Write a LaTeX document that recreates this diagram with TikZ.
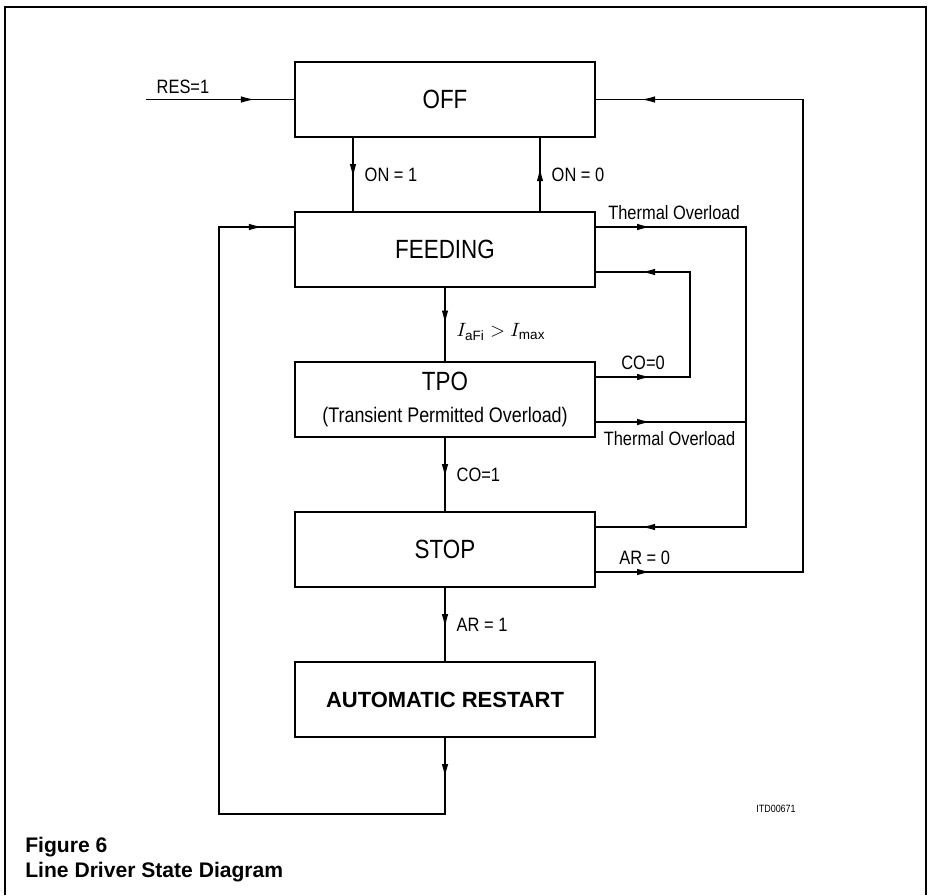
\documentclass[tikz,border=0pt]{standalone}
\usepackage{fontspec}
\setmainfont{Liberation Sans}
\newfontfamily\dinfont[FakeStretch=0.85]{Liberation Sans}
\usetikzlibrary{arrows.meta, decorations.markings}

\tikzstyle{state} = [rectangle, minimum width=6cm, minimum height=1.5cm, text centered, draw=black, line width=1.2pt, font=\dinfont\fontsize{15}{17}\selectfont]
\tikzstyle{restart} = [state, font=\bfseries\fontsize{12.5}{15}\selectfont]
\tikzstyle{edge} = [line width=0.8pt]
\tikzstyle{cond} = [font=\dinfont\fontsize{11}{13}\selectfont, inner sep=2pt]
\tikzset{arrowat/.style={postaction={decorate, decoration={markings, mark=at position #1 with {\arrow{Latex[length=2.8mm, width=1.3mm]}}}}}}

\begin{document}
\begin{tikzpicture}[node distance=3cm]
\useasboundingbox (0,0) rectangle (18.6,-17.9);
% frame
\draw [line width=1.4pt] (0.1,-17.9) |- (18.52,-0.14) -- (18.52,-17.9);

\node (off) [state] at (8.9,-1.99) {OFF};
\node (feeding) [state, below of=off] {FEEDING};
\node (tpo) [state, below of=feeding, align=center] {TPO\\[1pt]{\fontsize{12}{14}\selectfont (Transient Permitted Overload)}};
\node (stop) [state, below of=tpo] {STOP};
\node (restart) [restart, below of=stop] {AUTOMATIC RESTART};

\coordinate (res) at ([xshift=-2.96cm]off.west);
\coordinate (thermal) at (14.92,-7.99);

\draw [edge, arrowat=-0.78cm] (res) -- node[cond, pos=0.25, above=1pt] {RES=1} (off);
\draw [edge, arrowat=0.55] ([xshift=-1.84cm]off.south) -- node[cond, right=1.5mm] {ON = 1} ([xshift=-1.84cm]feeding.north);
\draw [edge, arrowat=0.6] ([xshift=1.9cm]feeding.north) -- node[cond, right=1.5mm] {ON = 0} ([xshift=1.9cm]off.south);
\draw [edge, arrowat=0.5] (feeding) -- node[cond, right=1.5mm, yshift=-0.15cm] {$I_{\mathrm{aFi}} > I_{\max}$} (tpo);
\draw [edge, arrowat=0.55] (tpo) -- node[cond, right=1.5mm] {CO=1} (stop);
\draw [edge, arrowat=0.55] (stop) -- node[cond, right=1.5mm] {AR = 1} (restart);

% overload and return paths
\draw [edge, arrowat=1.1cm, arrowat=-0.9cm] ([yshift=0.45cm]feeding.east) -- node[cond, above=2pt, pos=0.52] {Thermal Overload} ([yshift=0.45cm]feeding.east -| thermal) |- ([yshift=0.45cm]stop.east);
\draw [edge, arrowat=1.1cm] ([yshift=-0.45cm]tpo.east) -- node[cond, below=3pt, pos=0.49] {Thermal Overload} ([yshift=-0.45cm]tpo.east -| thermal);
\draw [edge, arrowat=1.1cm, arrowat=-0.9cm] ([yshift=0.45cm]tpo.east) -- node[cond, above=2pt] {CO=0} ++(1.88,0) |- ([yshift=-0.45cm]feeding.east);
\draw [edge, arrowat=1.1cm, arrowat=-0.9cm] ([yshift=-0.45cm]stop.east) -- node[cond, above=2pt, pos=0.235] {AR = 0} ++(4.14,0) |- (off.east);
\draw [edge, arrowat=0.8cm, arrowat=-0.62cm] (restart.south) -- ++(0,-1.52) -| ([xshift=-1.5cm, yshift=0.45cm]feeding.west) -- ([yshift=0.45cm]feeding.west);

\node (code) [font=\dinfont\fontsize{6}{7}\selectfont] at (15.52,-16.18) {ITD00671};
\node (caption) [anchor=west, align=left, inner sep=0pt, font=\bfseries\fontsize{12}{14.2}\selectfont] at (0.5,-17.19) {Figure 6\\Line Driver State Diagram};

\end{tikzpicture}
\end{document}
